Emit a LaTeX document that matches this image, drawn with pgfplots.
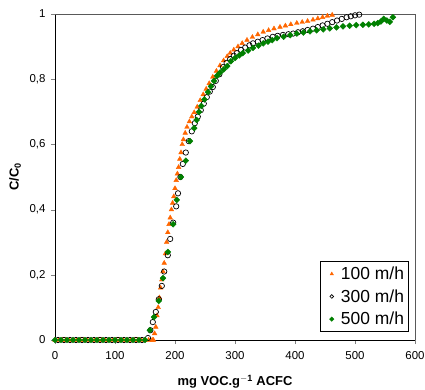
\documentclass[border=0pt]{standalone}
\usepackage{pgfplots}
\pgfplotsset{compat=1.18}
\usepackage{fontspec}
\setmainfont{Liberation Sans}
\definecolor{orng}{RGB}{255,102,0}
\definecolor{grn}{RGB}{0,128,0}
\pgfplotsset{dotlegend/.style={legend image code/.code={\path (-9bp,0bp) (4bp,0bp); \draw[##1, mark size=#1] plot coordinates {(0bp,0bp)};}}}
\begin{document}
\begin{tikzpicture}
\begin{axis}[
  scale only axis, width=360bp, height=326bp,
  xmin=0, xmax=600, ymin=0, ymax=1,
  xtick={0,100,200,300,400,500,600}, ytick={0,0.2,0.4,0.6,0.8,1},
  /pgf/number format/assume math mode=true,
  tick label style={font=\fontsize{11.5}{13}\selectfont},
  xticklabel style={yshift=-4bp},
  yticklabel style={xshift=-2bp, /pgf/number format/fixed, /pgf/number format/precision=1, /pgf/number format/use comma},
  tick align=outside, tick pos=left, major tick length=4bp,
  axis x line*=bottom, axis y line*=left,
  axis line style={black, line width=0.8pt},
  xlabel={\textbf{mg VOC.g$^{\mathbf{-1}}$ ACFC}},
  ylabel={\textbf{C/C$_{\mathbf{0}}$}},
  label style={font=\fontsize{13}{15}\selectfont},
  xlabel style={at={(axis description cs:0.5,0)}, anchor=center, yshift=-42bp},
  ylabel style={at={(axis description cs:-0.111,0.5)}, anchor=center},
  legend cell align=left,
  legend style={at={(rel axis cs:0.981,0.025)}, anchor=south east, draw=black,
    font=\fontsize{17.5}{20}\selectfont, row sep=4.5bp, inner xsep=2bp, inner ysep=3.5bp,
    /tikz/every odd column/.append style={column sep=3bp}},
  clip=false,
]
\draw[gray!70!black, line width=0.8pt] (rel axis cs:0,1) -- (rel axis cs:1,1) -- (rel axis cs:1,0);
\addplot[only marks, mark=triangle*, mark size=2.7pt, color=orng, mark options={fill=orng, draw=orng}, dotlegend=1.9pt] coordinates {
(0,0)(6,0)(12,0)(18,0)(24,0)(30,0)(36,0)(42,0)(48,0)(54,0)(60,0)(66,0)(72,0)(78,0)(84,0)(90,0)(96,0)(102,0)(108,0)(114,0)(120,0)(126,0)(132,0)(138,0)(144,0)(150,0)(156,0)(162,0)
(164,0)(166,0.02)(168,0.04)(170,0.075)(172,0.1)(174,0.13)(176,0.16)(178,0.185)(180,0.21)(182,0.236)(184,0.265)(186,0.3)(188,0.33)(190,0.355)(192,0.375)(194,0.4)(196,0.42)(198,0.44)(200,0.465)(202,0.49)(204,0.51)(206,0.53)(208,0.555)(210,0.575)(212,0.6)(214,0.615)(217,0.635)(220,0.653)(224,0.67)(228,0.685)(232,0.698)(237,0.715)(242,0.735)(247,0.753)(252,0.77)(257,0.787)(263,0.807)(269,0.825)(275,0.842)(281,0.857)(287,0.87)(292,0.88)(298,0.89)(305,0.9)(312,0.91)(320,0.92)(329,0.929)(338,0.937)(347,0.945)(356,0.95)(365,0.955)(375,0.96)(384,0.964)(393,0.968)(403,0.972)(412,0.975)(421,0.978)(430,0.982)(438,0.986)(446,0.99)(454,0.994)(462,0.997)
};
\addlegendentry{100 m/h}
\addplot[only marks, mark=o, mark size=2.7pt, color=black, mark options={fill=white, draw=black, line width=0.7pt}, dotlegend=1.8pt] coordinates {
(5,0)(15,0)(25,0)(35,0)(45,0)(55,0)(65,0)(75,0)(85,0)(95,0)(105,0)(115,0)(125,0)(135,0)(145,0)
(155,0.006)(159,0.03)(163,0.055)(168,0.086)(173,0.125)(178,0.166)(182,0.21)(188,0.26)(192,0.31)(197,0.36)(202,0.41)(205,0.45)(209,0.5)(213,0.54)(218,0.575)(223,0.61)(228,0.64)(233,0.665)(238,0.685)(243,0.705)(248,0.725)(253,0.745)(258,0.762)(263,0.776)(268,0.795)(274,0.815)(280,0.837)(286,0.85)(292,0.862)(298,0.872)(303,0.88)(310,0.89)(317,0.897)(324,0.904)(330,0.91)(338,0.915)(346,0.92)(354,0.925)(363,0.93)(371,0.933)(380,0.936)(389,0.938)(397,0.94)(405,0.944)(413,0.947)(421,0.951)(430,0.955)(438,0.96)(446,0.965)(454,0.97)(462,0.975)(470,0.98)(478,0.985)(486,0.99)(493,0.993)(500,0.996)(507,0.998)
};
\addlegendentry{300 m/h}
\addplot[only marks, mark=square*, mark size=2.1pt, color=grn, mark options={fill=grn, draw=grn, rotate=45}, dotlegend=1.6pt] coordinates {
(0,0)(10,0)(20,0)(30,0)(40,0)(50,0)(60,0)(70,0)(80,0)(90,0)(100,0)(110,0)(120,0)(130,0)(140,0)(150,0)
(158,0.03)(165,0.07)(173,0.12)(180,0.19)(188,0.27)(197,0.355)(203,0.43)(210,0.50)(218,0.55)(225,0.61)(232,0.65)(236,0.675)(240,0.7)(244,0.718)(249,0.738)(255,0.76)(260,0.778)(265,0.795)(270,0.81)(275,0.82)(281,0.83)(287,0.84)(293,0.855)(300,0.865)(307,0.873)(313,0.88)(322,0.888)(330,0.896)(339,0.903)(347,0.91)(355,0.915)(362,0.92)(370,0.926)(381,0.93)(392,0.935)(403,0.94)(414,0.943)(425,0.947)(436,0.95)(447,0.953)(458,0.956)(469,0.959)(480,0.962)(491,0.964)(502,0.966)(513,0.967)(523,0.968)(532,0.97)(538,0.972)(543,0.977)(548,0.985)(553,0.98)(558,0.976)(563,0.99)
};
\addlegendentry{500 m/h}
\end{axis}
\pgfresetboundingbox
\path (current axis.south west) ++(-55bp,-50bp) coordinate (bl);
\path (current axis.north east) ++(10bp,14bp) coordinate (tr);
\useasboundingbox (bl) rectangle (tr);
\end{tikzpicture}
\end{document}
